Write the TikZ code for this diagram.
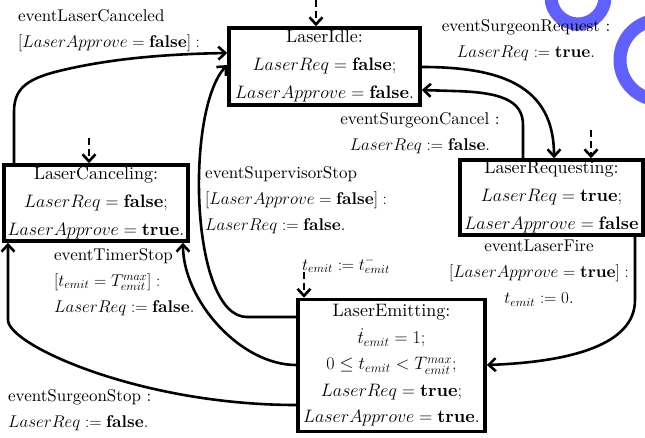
\RequirePackage{fix-cm}
\documentclass[tikz,border=0pt]{standalone}
\usepackage{fontspec}
% one optical design of Latin Modern, scaled to every size
\setmainfont{lmroman10-regular.otf}[
  BoldFont=lmroman10-bold.otf,
  ItalicFont=lmroman10-italic.otf,
  BoldItalicFont=lmroman10-bolditalic.otf]
\usetikzlibrary{arrows.meta}
\definecolor{markblue}{RGB}{96,96,255}
\tikzset{
  state/.style={draw, line width=3.6pt, inner sep=0pt, align=center,
    font=\fontsize{18}{28}\selectfont},
  trans/.style={line width=2.6pt, -{Straight Barb[length=7pt,width=13pt]}},
  initarrow/.style={trans, dash pattern=on 7pt off 4pt},
  lbl/.style={inner sep=0pt, font=\fontsize{17}{26}\selectfont},
  bluestroke/.style={draw=markblue, line width=13pt},
}
\begin{document}
\begin{tikzpicture}[x=1pt, y=-1pt]
  \useasboundingbox (0,0) rectangle (645,438);
  \clip (0,0) rectangle (645,438);

  % blue strokes in the upper right corner
  \draw[bluestroke] (578,-3) circle[radius=27];
  \draw[bluestroke] (660,60) circle[radius=40];

  % states
  \node[state, minimum width=191, minimum height=77] (idle) at (324.5,66.5)
    {LaserIdle:\\ $LaserReq = \mathbf{false};$\\ $LaserApprove = \mathbf{false}.$};
  \node[state, minimum width=183, minimum height=75] (req) at (551.5,197.5)
    {LaserRequesting:\\ $LaserReq = \mathbf{true};$\\ $LaserApprove = \mathbf{false}$};
  \node[state, minimum width=184, minimum height=76] (cancel) at (96,203)
    {LaserCanceling:\\ $LaserReq = \mathbf{false};$\\ $LaserApprove = \mathbf{true}.$};
  \node[state, minimum width=187, minimum height=132,
        font=\fontsize{18}{26.5}\selectfont] (emit) at (391.5,365.5)
    {LaserEmitting:\\ $\dot{t}_{emit} = 1;$\\ $0 \le t_{emit} < T^{max}_{emit};$\\
     $LaserReq = \mathbf{true};$\\ $LaserApprove = \mathbf{true}.$};

  % initial markers
  \coordinate (idle0) at (316,0);
  \coordinate (req0) at (591,130);
  \coordinate (cancel0) at (89,138);
  \coordinate (emit0) at (304,272);
  \draw[initarrow] (idle0) -- (idle0 |- idle.north);
  \draw[initarrow] (req0) -- (req0 |- req.north);
  \draw[initarrow] (cancel0) -- (cancel0 |- cancel.north);
  \draw[initarrow] (emit0) -- (emit0 |- emit.north);

  % transitions
  \draw[trans] (cancel.north -| 14,0) -- (14,112)
    .. controls (14,90) and (25,80) .. (55,72)
    .. controls (110,58) and (170,54) .. (idle.west |- 0,53);
  \draw[trans] (emit.west |- 0,317) -- (247,317)
    .. controls (190,317) and (185,110) .. (idle.west |- 0,65);
  \draw[trans] (emit.west |- 0,365)
    .. controls (240,365) and (183,300) .. (cancel.south -| 183,0);
  \draw[trans] (emit.west |- 0,405)
    .. controls (140,405) and (8,345) .. (8,320) -- (cancel.south -| 8,0);
  \draw[trans] (idle.east |- 0,67)
    .. controls (500,67) and (554,85) .. (req.north -| 554,0);
  \draw[trans] (req.north -| 523,0) -- (523,125)
    .. controls (523,100) and (500,92) .. (453,91) -- (idle.east |- 0,90);
  \draw[trans] (req.south -| 635,0) -- (635,300)
    .. controls (635,345) and (570,362) .. (emit.east |- 0,365);

  % transition labels
  \node[lbl, anchor=west, align=left] (lcanceled) at (18,31)
    {eventLaserCanceled\\ $[LaserApprove = \mathbf{false}]:$};
  \node[lbl, align=center] (lrequest) at (526,40)
    {eventSurgeonRequest :\\ $LaserReq := \mathbf{true}.$};
  \node[lbl, align=center] (lsurgcancel) at (420,133)
    {eventSurgeonCancel :\\ $LaserReq := \mathbf{false}.$};
  \node[lbl, anchor=west, align=left] (lsupstop) at (205,200)
    {eventSupervisorStop\\ $[LaserApprove = \mathbf{false}]:$\\ $LaserReq := \mathbf{false}.$};
  \node[lbl, anchor=west, align=left] (ltimer) at (54,282)
    {eventTimerStop\\ $[t_{emit} = T^{max}_{emit}]:$\\ $LaserReq := \mathbf{false}.$};
  \node[lbl, anchor=west, align=left] (lsurgstop) at (8,410)
    {eventSurgeonStop :\\ $LaserReq := \mathbf{false}.$};
  \node[lbl, align=center] (lfire) at (539,273)
    {eventLaserFire\\ $[LaserApprove = \mathbf{true}]:$\\ $t_{emit} := 0.$};
  \node[lbl] (lemit0) at (346,265) {$t_{emit} := t^{-}_{emit}$};
\end{tikzpicture}
\end{document}
